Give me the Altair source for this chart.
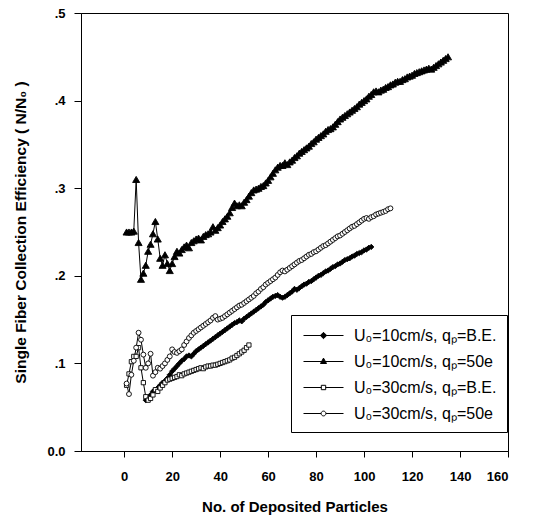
import altair as alt
import pandas as pd

# ---------------- data ----------------
SERIES = [
    "U\u2080=10cm/s, q\u209a=B.E.",
    "U\u2080=10cm/s, q\u209a=50e",
    "U\u2080=30cm/s, q\u209a=B.E.",
    "U\u2080=30cm/s, q\u209a=50e",
]

# U0=10cm/s, qp=B.E.  (filled diamonds) - first deposited particle index
d10_be_start = 9
d10_be = [
    0.058, 0.060, 0.064, 0.068, 0.070, 0.072, 0.075, 0.078, 0.080, 0.083,
    0.087, 0.091, 0.094, 0.097, 0.100, 0.103, 0.105, 0.108, 0.109, 0.108,
    0.111, 0.114, 0.116, 0.118, 0.120, 0.122, 0.124, 0.126, 0.128, 0.130,
    0.132, 0.134, 0.136, 0.138, 0.140, 0.142, 0.144, 0.146, 0.147, 0.149,
    0.148, 0.151, 0.153, 0.155, 0.157, 0.159, 0.161, 0.163, 0.165, 0.167,
    0.170, 0.172, 0.174, 0.176, 0.177, 0.178, 0.176, 0.175, 0.176, 0.178,
    0.180, 0.182, 0.185, 0.184, 0.186, 0.188, 0.190, 0.191, 0.193, 0.194,
    0.196, 0.198, 0.200, 0.201, 0.203, 0.205, 0.206, 0.208, 0.210, 0.211,
    0.213, 0.214, 0.216, 0.218, 0.219, 0.220, 0.222, 0.223, 0.225, 0.226,
    0.227, 0.229, 0.230, 0.232, 0.233,
]

# U0=10cm/s, qp=50e  (filled triangles)
t10_50_start = 1
t10_50 = [
    0.250, 0.250, 0.250, 0.251, 0.310, 0.238, 0.196, 0.203, 0.212, 0.228,
    0.236, 0.248, 0.262, 0.242, 0.220, 0.212, 0.224, 0.214, 0.206, 0.214,
    0.222, 0.228, 0.226, 0.230, 0.233, 0.235, 0.232, 0.238, 0.240, 0.242,
    0.243, 0.241, 0.245, 0.247, 0.248, 0.250, 0.256, 0.252, 0.255, 0.258,
    0.262, 0.265, 0.268, 0.272, 0.278, 0.283, 0.280, 0.281, 0.280, 0.284,
    0.287, 0.291, 0.295, 0.298, 0.299, 0.300, 0.302, 0.303, 0.306, 0.309,
    0.313, 0.317, 0.321, 0.324, 0.326, 0.326, 0.329, 0.327, 0.330, 0.332,
    0.335, 0.337, 0.340, 0.342, 0.344, 0.346, 0.348, 0.351, 0.353, 0.356,
    0.358, 0.360, 0.362, 0.365, 0.367, 0.368, 0.370, 0.373, 0.376, 0.379,
    0.381, 0.383, 0.385, 0.387, 0.389, 0.391, 0.393, 0.396, 0.398, 0.400,
    0.402, 0.405, 0.407, 0.410, 0.411, 0.410, 0.412, 0.413, 0.415, 0.416,
    0.418, 0.419, 0.421, 0.422, 0.422, 0.424, 0.425, 0.427, 0.428, 0.429,
    0.431, 0.432, 0.433, 0.434, 0.435, 0.436, 0.437, 0.436, 0.438, 0.440,
    0.442, 0.444, 0.446, 0.448, 0.450,
]

# U0=30cm/s, qp=B.E.  (open squares)
s30_be_start = 1
s30_be = [
    0.075, 0.088, 0.102, 0.108, 0.108, 0.118, 0.095, 0.078, 0.062, 0.058,
    0.060, 0.064, 0.070, 0.068, 0.072, 0.075, 0.078, 0.081, 0.082, 0.083,
    0.084, 0.085, 0.087, 0.086, 0.088, 0.089, 0.090, 0.091, 0.092, 0.093,
    0.094, 0.095, 0.094, 0.096, 0.097, 0.097, 0.098, 0.098, 0.099, 0.100,
    0.101, 0.102, 0.103, 0.104, 0.106, 0.107, 0.109, 0.111, 0.113, 0.115,
    0.118, 0.121,
]

# U0=30cm/s, qp=50e  (open circles)
c30_50_start = 1
c30_50 = [
    0.077, 0.065, 0.087, 0.103, 0.118, 0.135, 0.127, 0.110, 0.095, 0.100,
    0.111, 0.086, 0.090, 0.095, 0.094, 0.097, 0.100, 0.104, 0.108, 0.116,
    0.113, 0.112, 0.114, 0.116, 0.121, 0.125, 0.129, 0.132, 0.135, 0.137,
    0.139, 0.141, 0.143, 0.145, 0.147, 0.149, 0.152, 0.154, 0.150, 0.151,
    0.152, 0.154, 0.156, 0.158, 0.160, 0.162, 0.164, 0.166, 0.167, 0.169,
    0.171, 0.173, 0.175, 0.177, 0.180, 0.182, 0.185, 0.187, 0.190, 0.192,
    0.194, 0.196, 0.198, 0.201, 0.204, 0.206, 0.205, 0.207, 0.209, 0.211,
    0.213, 0.215, 0.217, 0.218, 0.220, 0.222, 0.224, 0.225, 0.227, 0.228,
    0.230, 0.232, 0.234, 0.235, 0.237, 0.239, 0.241, 0.243, 0.245, 0.246,
    0.248, 0.250, 0.252, 0.254, 0.256, 0.257, 0.259, 0.261, 0.263, 0.265,
    0.266, 0.265, 0.267, 0.268, 0.270, 0.271, 0.272, 0.273, 0.274, 0.276,
    0.277,
]

X_TICKS = [0, 20, 40, 60, 80, 100, 120, 140, 160]
Y_TICKS = [0.0, 0.1, 0.2, 0.3, 0.4, 0.5]

# ---------------- build table ----------------
rows = []
for name, start, vals in [
    (SERIES[0], d10_be_start, d10_be),
    (SERIES[1], t10_50_start, t10_50),
    (SERIES[2], s30_be_start, s30_be),
    (SERIES[3], c30_50_start, c30_50),
]:
    for i, v in enumerate(vals):
        rows.append({"series": name, "n": start + i, "eff": v})
df = pd.DataFrame(rows)
legend_df = pd.DataFrame({"series": SERIES})

FONT = "Liberation Sans"

x_enc = alt.X(
    "n:Q",
    scale=alt.Scale(domain=[-18, 160], nice=False, zero=False),
    axis=alt.Axis(
        values=X_TICKS, title="No. of Deposited Particles", grid=False,
        tickSize=6, labelPadding=13, titlePadding=16,
        labelFontSize=13, titleFontSize=15,
    ),
)
y_enc = alt.Y(
    "eff:Q",
    scale=alt.Scale(domain=[0, 0.5], nice=False),
    axis=alt.Axis(
        values=Y_TICKS, title="Single Fiber Collection Efficiency ( N/N\u2080 )",
        grid=False, tickSize=7, labelPadding=9, titlePadding=18,
        labelFontSize=13, titleFontSize=15.5,
        labelExpr="datum.value == 0 ? '0.0' : replace(format(datum.value, '.1f'), '0.', '.')",
    ),
)

lines = alt.Chart(df).mark_line(color="black", strokeWidth=1).encode(
    x=x_enc, y=y_enc, detail="series:N", order="n:Q"
)

styles = [
    (SERIES[0], "diamond", "black", 28),
    (SERIES[1], "triangle-up", "black", 50),
    (SERIES[2], "square", "white", 18),
    (SERIES[3], "circle", "white", 24),
]
point_layers = []
for name, shape, fill, size in styles:
    point_layers.append(
        alt.Chart(df).transform_filter(alt.datum.series == name).mark_point(
            shape=shape, size=size, filled=True, fill=fill, stroke="black",
            strokeWidth=0.9, opacity=1, fillOpacity=1,
        ).encode(x="n:Q", y="eff:Q")
    )

LEG_PATHS = [
    "M-2,0H2M0,-0.32L0.32,0L0,0.32L-0.32,0Z",
    "M-2,0H2M0,-0.34L0.3,0.2L-0.3,0.2Z",
    "M-2,0H-0.22M0.22,0H2M-0.22,-0.22H0.22V0.22H-0.22Z",
    "M-2,0H-0.24M0.24,0H2M0.24,0A0.24,0.24,0,1,1,-0.24,0A0.24,0.24,0,1,1,0.24,0Z",
]
LEG_FILLS = ["black", "black", "white", "white"]
LEG_STROKES = ["black", "black", "black", "black"]

leg = alt.Legend(
    title=None, orient="none", legendX=210, legendY=302,
    fillColor="white", strokeColor="black", padding=10,
    symbolSize=400, symbolStrokeWidth=1,
    symbolOpacity=1, symbolOffset=12, labelOffset=20, rowPadding=7,
    labelFontSize=16, labelFont=FONT, labelColor="black",
)
legend_layer = alt.Chart(legend_df).mark_point(opacity=0, strokeWidth=1).encode(
    shape=alt.Shape("series:N", scale=alt.Scale(domain=SERIES, range=LEG_PATHS), legend=leg),
    fill=alt.Fill("series:N", scale=alt.Scale(domain=SERIES, range=LEG_FILLS), legend=leg),
    stroke=alt.Stroke("series:N", scale=alt.Scale(domain=SERIES, range=LEG_STROKES), legend=leg),
)

chart = alt.layer(lines, *point_layers, legend_layer).properties(
    width=427, height=438,
    autosize=alt.AutoSizeParams(type="none"),
    padding={"left": 81, "top": 13, "right": 27, "bottom": 68},
    background="white",
).configure(font=FONT).configure_view(
    stroke="black", strokeWidth=1
).configure_axis(
    domainColor="black", tickColor="black", labelColor="black", titleColor="black",
    labelFont=FONT, titleFont=FONT, labelFontWeight="bold", titleFontWeight="bold",
    domainWidth=1, tickWidth=1,
)

chart.save("out.html", embed_options={"renderer": "svg", "actions": False})
